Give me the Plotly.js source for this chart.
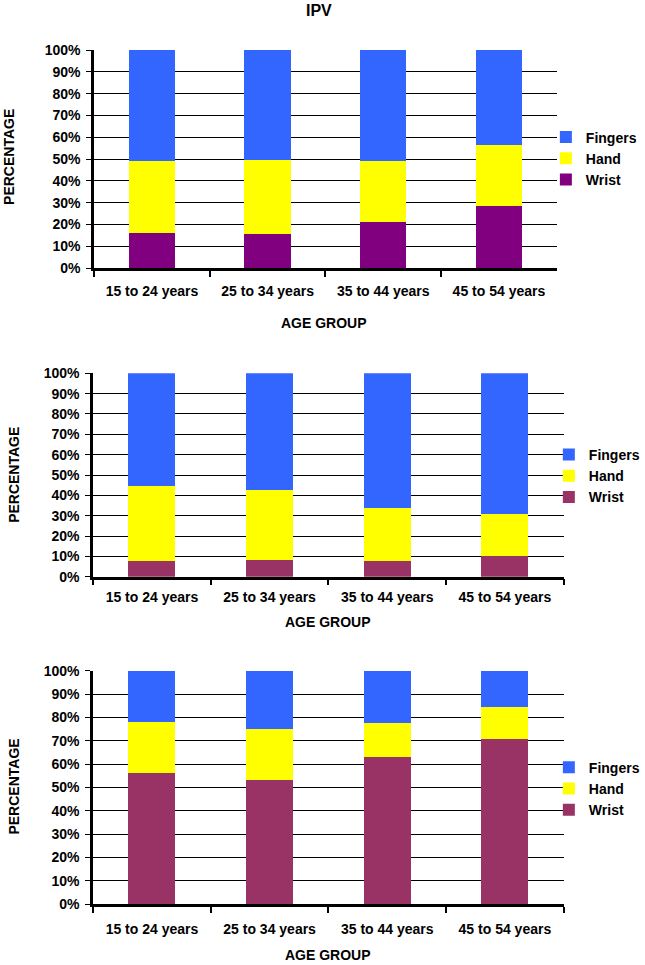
<!DOCTYPE html>
<html>
<head>
<meta charset="utf-8">
<script src="https://cdn.plot.ly/plotly-3.0.1.min.js"></script>
<style>
  html, body { margin: 0; padding: 0; background: #fff; }
  #chart { width: 645px; height: 965px; }
</style>
</head>
<body>
<div id="chart"></div>
<script>
// age groups on the x axis
const ageGroups = ['15 to 24 years', '25 to 34 years', '35 to 44 years', '45 to 54 years'];
const tickVals = [0, 10, 20, 30, 40, 50, 60, 70, 80, 90, 100];
const tickLabels = ['0%', '10%', '20%', '30%', '40%', '50%', '60%', '70%', '80%', '90%', '100%'];

// segment sizes in percent (bottom to top: wrist, hand, fingers)
// panel 1 - IPV
const wrist1 = [16.2, 15.5, 21.1, 28.5];
const hand1 = [32.8, 34.1, 28.2, 27.9];
const fingers1 = [51.0, 50.4, 50.7, 43.6];
// panel 2
const wrist2 = [7.9, 8.2, 7.9, 10.3];
const hand2 = [36.7, 34.6, 26.0, 20.4];
const fingers2 = [55.4, 57.2, 66.1, 69.3];
// panel 3
const wrist3 = [56.3, 53.1, 62.9, 70.8];
const hand3 = [21.7, 21.9, 14.8, 13.8];
const fingers3 = [22.0, 25.0, 22.3, 15.4];

const BLUE = '#3366ff';
const YELLOW = '#ffff00';
const PURPLE = '#800080';
const PLUM = '#993366';
const FONT = 'Liberation Sans, Arial, sans-serif';

function panelTraces(n, wrist, hand, fingers, wristColor) {
  const ax = n === 1 ? '' : String(n);
  const common = {
    type: 'bar',
    x: ageGroups,
    xaxis: 'x' + ax,
    yaxis: 'y' + ax,
    legend: n === 1 ? 'legend' : 'legend' + n,
    hoverinfo: 'name+y'
  };
  return [
    Object.assign({}, common, {name: 'Wrist', y: wrist, marker: {color: wristColor, line: {width: 0}}}),
    Object.assign({}, common, {name: 'Hand', y: hand, marker: {color: YELLOW, line: {width: 0}}}),
    Object.assign({}, common, {name: 'Fingers', y: fingers, marker: {color: BLUE, line: {width: 0}}})
  ];
}

const data = [].concat(
  panelTraces(1, wrist1, hand1, fingers1, PURPLE),
  panelTraces(2, wrist2, hand2, fingers2, PLUM),
  panelTraces(3, wrist3, hand3, fingers3, PLUM)
);

// pixel helpers for the 645x965 page
const px = v => v / 645;
const py = v => 1 - v / 965;

function xAxis(domain, standoff, anchor) {
  return {
    domain: domain,
    anchor: anchor,
    type: 'category',
    tickson: 'boundaries',
    ticks: 'outside',
    ticklen: 6,
    tickwidth: 2,
    tickcolor: '#000',
    showline: true,
    linecolor: '#000',
    linewidth: 2.5,
    showgrid: false,
    ticklabelstandoff: standoff,
    tickfont: {family: FONT, size: 14, weight: 'bold', color: '#000'},
    fixedrange: true
  };
}

function yAxis(domain, anchor) {
  return {
    domain: domain,
    anchor: anchor,
    range: [0, 100],
    tickmode: 'array',
    tickvals: tickVals,
    ticktext: tickLabels,
    ticks: 'outside',
    ticklen: 5,
    tickwidth: 1.3,
    tickcolor: '#000',
    showline: true,
    linecolor: '#000',
    linewidth: 2.5,
    showgrid: true,
    gridcolor: '#000',
    gridwidth: 1.3,
    zeroline: false,
    ticklabelstandoff: 3,
    tickfont: {family: FONT, size: 14, weight: 'bold', color: '#000'},
    fixedrange: true
  };
}

function legendBox(hy, x) {
  return {
    x: px(x), xanchor: 'left',
    y: py(hy), yanchor: 'middle',
    traceorder: 'reversed',
    bgcolor: 'rgba(0,0,0,0)',
    font: {family: FONT, size: 14, weight: 'bold', color: '#000'}
  };
}

function note(text, x, y, size, angle) {
  return {
    text: text, xref: 'paper', yref: 'paper',
    x: px(x), y: py(y), xanchor: 'center', yanchor: 'middle',
    showarrow: false, textangle: angle || 0,
    font: {family: FONT, size: size, weight: 'bold', color: '#000'}
  };
}

const layout = {
  width: 645,
  height: 965,
  margin: {l: 0, r: 0, t: 0, b: 0},
  paper_bgcolor: '#fff',
  plot_bgcolor: '#fff',
  barmode: 'stack',
  bargap: 0.6,
  xaxis: xAxis([px(95), px(562)], 8, 'y'),
  yaxis: yAxis([py(268), py(50)], 'x'),
  xaxis2: xAxis([px(94), px(569)], 6, 'y2'),
  yaxis2: yAxis([py(576.7), py(373.3)], 'x2'),
  xaxis3: xAxis([px(94), px(569)], 10, 'y3'),
  yaxis3: yAxis([py(904.3), py(670.7)], 'x3'),
  legend: legendBox(158.5, 551),
  legend2: legendBox(476, 554),
  legend3: legendBox(788.7, 554),
  annotations: [
    note('IPV', 322, 11, 16),
    note('AGE GROUP', 327, 323, 14),
    note('AGE GROUP', 331, 621.7, 14),
    note('AGE GROUP', 331, 955, 14),
    note('PERCENTAGE', 9, 157, 14, -90),
    note('PERCENTAGE', 14, 475, 14, -90),
    note('PERCENTAGE', 14, 786.7, 14, -90)
  ]
};

Plotly.newPlot('chart', data, layout, {displayModeBar: false, responsive: false});
</script>
</body>
</html>
